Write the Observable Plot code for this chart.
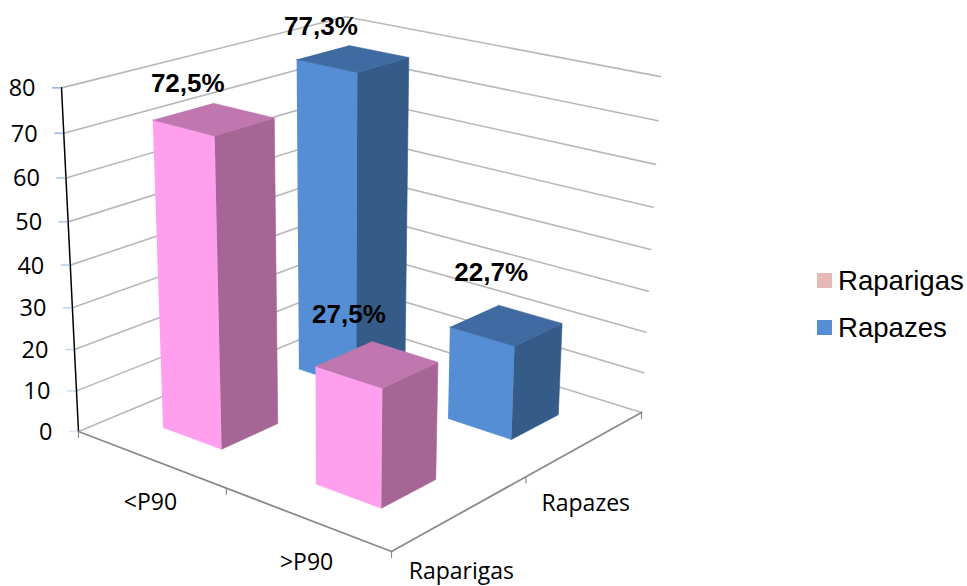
<!DOCTYPE html>
<html>
<head>
<meta charset="utf-8">
<script src="https://cdn.jsdelivr.net/npm/d3@7"></script>
<script src="https://cdn.jsdelivr.net/npm/@observablehq/plot@0.6"></script>
<style>
  html, body { margin: 0; background: #fff; }
  #chart { position: relative; width: 967px; height: 586px; overflow: hidden; }
  #legend { position: absolute; left: 817px; top: 257px; font: 27.6px "Liberation Sans", Arial, sans-serif; color: #000; }
  #legend div { display: flex; align-items: center; height: 47px; }
  #legend i { display: block; width: 15px; height: 15px; margin-right: 6px; }
</style>
</head>
<body>
<div id="chart"></div>
<script>
// Values of the 3D column chart
const categories = ["<P90", ">P90"];
const seriesNames = ["Raparigas", "Rapazes"];
const raparigas = [72.5, 27.5];
const rapazes = [77.3, 22.7];
const valueTicks = [0, 10, 20, 30, 40, 50, 60, 70, 80];
const valueLabels = ["72,5%", "27,5%", "77,3%", "22,7%"];

const width = 967, height = 586, zMax = 80;

// Camera: homogeneous matrix taking (u, v, z/zMax, 1) to the page plane
const camera = [
  [272.01, 317.36, -20.74, 78],
  [62.24, -64.29, -349, 431],
  [-0.10483, 0.14597, -0.06137, 1]
];
// Extra rise of the far right corner of the box at full height
const farCornerLift = 5.5;
function project(u, v, z) {
  const t = z / zMax;
  const p = [u, v, t, 1];
  const [X, Y, W] = camera.map((r) => d3.sum(r, (c, i) => c * p[i]));
  return {x: X / W, y: Y / W - farCornerLift * u * v * t};
}

// Each category and series takes half of the floor; columns fill 40% of a cell
const uCenter = d3.scalePoint(categories, [0.24, 0.745]);
const vCenter = d3.scalePoint(seriesNames, [0.25, 0.75]);
const half = 0.1;

const palette = {
  Raparigas: {front: "#ff9fee", side: "#a56595", top: "#c076ae", legend: "#e6b9b8"},
  Rapazes: {front: "#558ed5", side: "#355b88", top: "#406ba2", legend: "#558ed5"}
};

const bars = [
  ...categories.map((c, i) => ({category: c, series: "Raparigas", value: raparigas[i], label: valueLabels[i]})),
  ...categories.map((c, i) => ({category: c, series: "Rapazes", value: rapazes[i], label: valueLabels[i + 2]}))
];

// Painter's order: far columns first
const drawOrder = d3.sort(bars, (d) => -vCenter(d.series), (d) => uCenter(d.category));

const faces = drawOrder.flatMap((b, n) => {
  const u = uCenter(b.category), v = vCenter(b.series), z = b.value;
  const u0 = u - half, u1 = u + half, v0 = v - half, v1 = v + half;
  const c = palette[b.series];
  const polys = [
    ["front", c.front, [[u0, v0, 0], [u1, v0, 0], [u1, v0, z], [u0, v0, z]]],
    ["side", c.side, [[u1, v0, 0], [u1, v1, 0], [u1, v1, z], [u1, v0, z]]],
    ["top", c.top, [[u0, v0, z], [u1, v0, z], [u1, v1, z], [u0, v1, z]]]
  ];
  return polys.flatMap(([name, color, pts]) =>
    pts.map(([a, e, h]) => ({id: `${n}-${name}`, color, ...project(a, e, h)})));
});

// Gridlines run along the left wall to the back corner, then along the back wall
const grid = valueTicks.flatMap((z) =>
  [[0, 0], [0, 1], [1, 1]].map(([u, v]) => ({z, ...project(u, v, z)})));

const floorEdge = [[0, 0], [1, 0], [1, 1]].map(([u, v]) => project(u, v, 0));
const valueAxis = [0, zMax].map((z) => project(0, 0, z));
const floorTicks = [[0, 0], [0.5, 0], [1, 0], [1, 0.5], [1, 1]].map(([u, v]) => project(u, v, 0));

const valueTickData = valueTicks.map((z) => ({z, ...project(0, 0, z)}));
const categoryLabels = categories.map((c, i) => ({text: c, ...project(0.25 + 0.5 * i, 0, 0)}));
const seriesLabels = seriesNames.map((s) => ({text: s, ...project(1, vCenter(s), 0)}));
const seriesLabelDrop = {Raparigas: 58.5, Rapazes: 60};

// Data label offsets from the centre of each column's top
const labelOffsets = {
  "72,5%": [-26, -35], "77,3%": [-32, -32], "27,5%": [-28, -50], "22,7%": [-15, -53]
};
const axisFont = "'Open Sans', 'Noto Sans', sans-serif";

const plot = Plot.plot({
  width, height,
  margin: 0,
  x: {type: "linear", domain: [0, width], range: [0, width], axis: null},
  y: {type: "linear", domain: [0, height], range: [0, height], axis: null},
  color: {type: "identity"},
  marks: [
    Plot.line(grid, {x: "x", y: "y", z: "z", stroke: "#b8b8b8", strokeWidth: 1.6, curve: "linear"}),
    Plot.line(valueAxis, {x: "x", y: "y", stroke: "#000", strokeWidth: 1.5}),
    Plot.line(floorEdge, {x: "x", y: "y", stroke: "#8a8a8a", strokeWidth: 1.8}),
    Plot.ruleX(floorTicks, {x: "x", y1: "y", y2: (d) => d.y + 7, stroke: "#8a8a8a", strokeWidth: 1.2}),
    Plot.ruleY(valueTickData, {
      y: "y", x1: (d) => d.x - 9, x2: "x",
      stroke: "#8fb0e2", strokeOpacity: (d) => 0.35 + 0.65 * d.z / zMax, strokeWidth: 1.5
    }),
    Plot.text(valueTickData, {
      x: "x", y: "y", text: (d) => String(d.z), textAnchor: "end", dx: -26, dy: 1,
      fontSize: 23.5, fontFamily: axisFont, fill: "#000"
    }),
    Plot.text(categoryLabels, {
      x: "x", y: "y", text: "text", dy: 44, fontSize: 23, fontFamily: axisFont, fill: "#000"
    }),
    Plot.text(seriesLabels, {
      x: "x", y: (d) => d.y + seriesLabelDrop[d.text], text: "text", fontSize: 23, fontFamily: axisFont, fill: "#000"
    }),
    Plot.line(faces, {
      x: "x", y: "y", z: "id", fill: "color", stroke: "color", strokeWidth: 0.6, curve: "linear"
    }),
    ...bars.map((b) => {
      const [dx, dy] = labelOffsets[b.label];
      const p = project(uCenter(b.category), vCenter(b.series), b.value);
      return Plot.text([{...p, label: b.label}], {
        x: "x", y: "y", text: "label", dx, dy,
        fontSize: 26, fontWeight: "bold", fontFamily: "'Liberation Sans', Arial, sans-serif", fill: "#000"
      });
    })
  ]
});
document.getElementById("chart").append(plot);

// Legend to the right of the plot
const legend = d3.select("#chart").append("div").attr("id", "legend");
const rows = legend.selectAll("div").data(seriesNames).join("div");
rows.append("i").style("background", (s) => palette[s].legend);
rows.append("span").text((s) => s);
</script>
</body>
</html>
